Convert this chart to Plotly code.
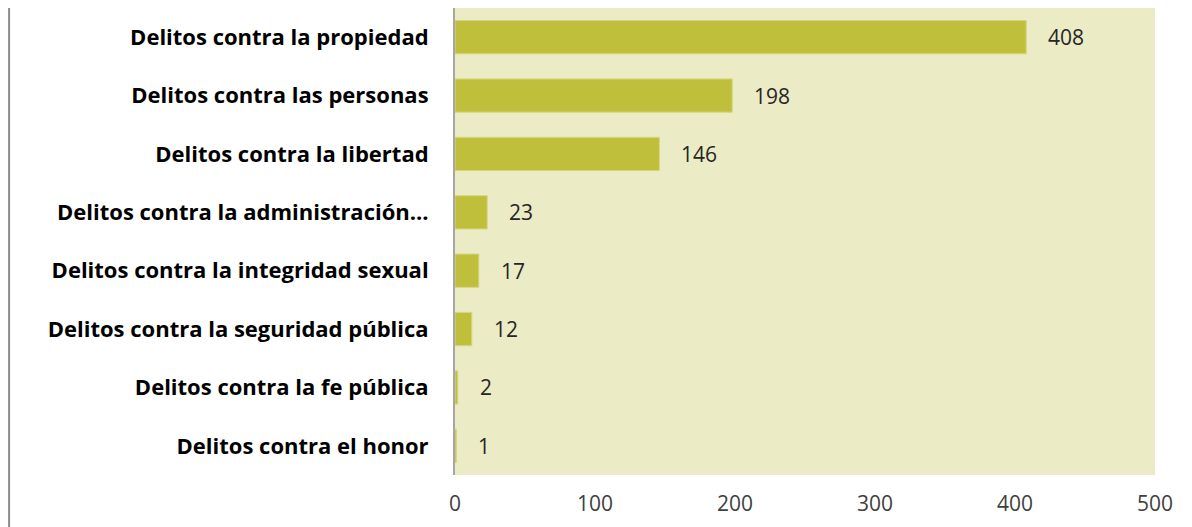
import plotly.graph_objects as go

categories = [
    "Delitos contra la propiedad",
    "Delitos contra las personas",
    "Delitos contra la libertad",
    "Delitos contra la administración...",
    "Delitos contra la integridad sexual",
    "Delitos contra la seguridad pública",
    "Delitos contra la fe pública",
    "Delitos contra el honor",
]
values = [408, 198, 146, 23, 17, 12, 2, 1]
x_ticks = [0, 100, 200, 300, 400, 500]

BAR = "rgb(191,191,59)"
BG = "rgb(235,235,197)"
FONT = "Open Sans"

fig = go.Figure()
fig.add_trace(go.Bar(
    y=categories, x=values, orientation="h",
    marker=dict(color=BAR, line=dict(color="rgb(214,214,130)", width=1)),
    width=0.57,
    hoverinfo="skip",
))

for c, v in zip(categories, values):
    fig.add_annotation(
        x=v, y=c, xref="x", yref="y", text=str(v), showarrow=False,
        xanchor="left", yanchor="middle", xshift=20,
        font=dict(family=FONT, size=21, color="#262626"),
    )

# thin frame line at the far left of the picture
fig.add_shape(type="line", xref="paper", yref="paper",
              x0=-0.637, x1=-0.637, y0=-0.12, y1=1.02,
              line=dict(color="#8c8c8c", width=2))

fig.update_layout(
    width=1184, height=519,
    margin=dict(l=447, r=37, t=0, b=52),
    plot_bgcolor=BG, paper_bgcolor="white",
    showlegend=False,
    xaxis=dict(range=[0, 500], tickvals=x_ticks, showgrid=False, zeroline=False,
               showline=False, ticks="", ticklabelstandoff=14,
               tickfont=dict(family=FONT, size=21, color="#404040")),
    yaxis=dict(autorange="reversed", showgrid=False, zeroline=False,
               showline=True, linecolor="#a6a6a6", linewidth=2, ticks="",
               ticklabelstandoff=20,
               tickfont=dict(family=FONT, size=22, color="black", weight="bold")),
)

fig.write_html("out.html")
